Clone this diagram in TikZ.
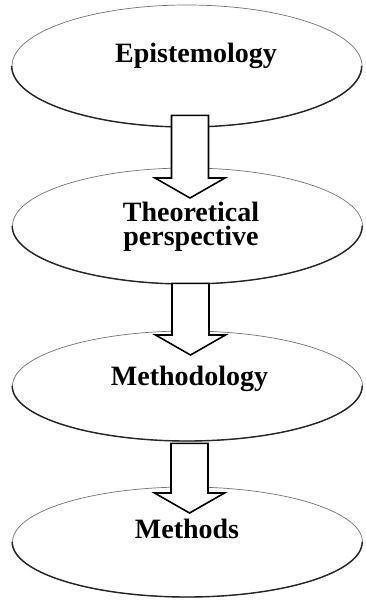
\documentclass[tikz,border=0pt]{standalone}
\usepackage{fontspec}
\setmainfont{Liberation Serif}
\usetikzlibrary{calc,shapes.geometric}
\tikzset{
  stage/.style={ellipse, draw=black!55, line width=0.7pt, inner sep=0pt, minimum width=350pt},
  rim/.style={draw=black!85, line width=1.4pt},
  lbl/.style={font=\bfseries\fontsize{28}{24}\selectfont, inner sep=0pt, anchor=base},
  blockarrow/.style={draw=black, fill=white, line width=1.6pt, line join=miter},
}
\newcommand\blockarrow[2]{%
  \draw[blockarrow] ($(#1)+(-18.5,0)$) -- ($(#1)+(18.5,0)$) -- ($(#2)+(18.5,-20)$)
    -- ($(#2)+(35,-20)$) -- (#2) -- ($(#2)+(-35,-20)$) -- ($(#2)+(-18.5,-20)$) -- cycle;}
\begin{document}
\begin{tikzpicture}[x=1pt,y=-1pt]
\useasboundingbox (0,0) rectangle (365,608);
% ellipses
\node[stage, minimum height=122pt] (e1) at (187,66) {};
\node[stage, minimum height=116pt] (e2) at (187.5,226) {};
\node[stage, minimum height=110pt] (e3) at (187.5,386) {};
\node[stage, minimum height=110pt] (e4) at (187.5,542) {};
\draw[rim] (e1.west) arc[start angle=180, end angle=360, x radius=175pt, y radius=61pt];
\draw[rim] (e2.west) arc[start angle=180, end angle=360, x radius=175pt, y radius=58pt];
\draw[rim] (e3.west) arc[start angle=180, end angle=360, x radius=175pt, y radius=55pt];
\draw[rim] (e4.west) arc[start angle=180, end angle=360, x radius=175pt, y radius=55pt];
% labels
\node[lbl] (t1) at (196,62) {Epistemology};
\node[lbl, anchor=center, align=center] (t2) at (191,227) {Theoretical\\perspective};
\node[lbl] (t3) at (189.5,385) {Methodology};
\node[lbl] (t4) at (187,538) {Methods};
% arrows
\coordinate (a1s) at ($(e1.south)+(3,-12)$);
\coordinate (a1t) at (a1s |- 0,198);
\coordinate (a2s) at ($(e2.south)+(3,-1)$);
\coordinate (a2t) at (a2s |- 0,355);
\coordinate (a3s) at ($(e3.south)+(2,2)$);
\coordinate (a3t) at (a3s |- 0,513);
\blockarrow{a1s}{a1t}
\blockarrow{a2s}{a2t}
\blockarrow{a3s}{a3t}
\end{tikzpicture}
\end{document}
